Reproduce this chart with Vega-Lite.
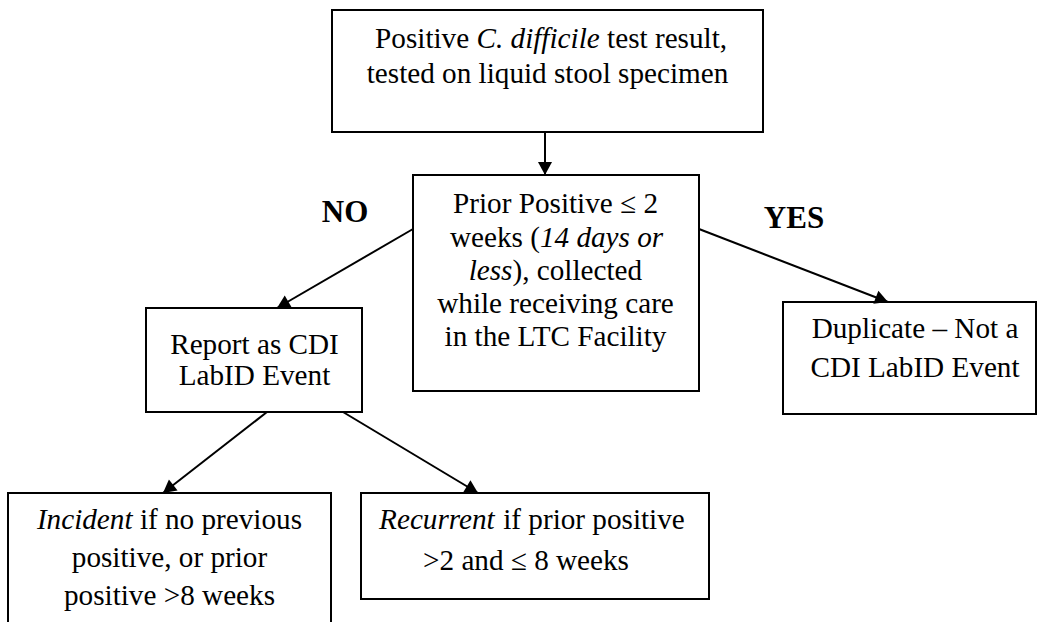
{
  "$schema": "https://vega.github.io/schema/vega-lite/v6.json",
  "width": 1037,
  "height": 622,
  "autosize": {"type": "fit", "contains": "padding"},
  "padding": 0,
  "background": "white",
  "config": {"view": {"stroke": null}},
  "datasets": {
    "boxes": [
      {"id": "start", "x": 332, "x2": 763, "y": 10, "y2": 132},
      {"id": "prior", "x": 413, "x2": 699, "y": 175, "y2": 391},
      {"id": "report", "x": 146, "x2": 362, "y": 308, "y2": 412},
      {"id": "duplicate", "x": 783, "x2": 1036, "y": 302, "y2": 414},
      {"id": "incident", "x": 8, "x2": 331, "y": 493, "y2": 660},
      {"id": "recurrent", "x": 361, "x2": 709, "y": 493, "y2": 599}
    ],
    "edges": [
      {"from": "start", "to": "prior", "x": 545, "y": 132, "x2": 545, "y2": 175},
      {"from": "prior", "to": "report", "x": 413, "y": 229, "x2": 277, "y2": 308},
      {"from": "prior", "to": "duplicate", "x": 699, "y": 229, "x2": 888, "y2": 302},
      {"from": "report", "to": "incident", "x": 267, "y": 412, "x2": 163, "y2": 493},
      {"from": "report", "to": "recurrent", "x": 343, "y": 412, "x2": 478, "y2": 493}
    ],
    "texts": [
      {"k": "seg", "x": 375.1, "y": 48, "t": "Positive"},
      {"k": "ital", "x": 476.5, "y": 48, "t": "C. difficile"},
      {"k": "seg", "x": 607.1, "y": 48, "t": "test result,"},
      {"k": "line", "x": 547.5, "y": 83, "t": "tested on liquid stool specimen"},
      {"k": "line", "x": 555.5, "y": 213, "t": "Prior Positive ≤ 2"},
      {"k": "seg", "x": 449.9, "y": 247, "t": "weeks ("},
      {"k": "ital", "x": 539.9, "y": 247, "t": "14 days or"},
      {"k": "ital", "x": 468.7, "y": 280, "t": "less"},
      {"k": "seg", "x": 512.5, "y": 280, "t": "), collected"},
      {"k": "line", "x": 555.5, "y": 313, "t": "while receiving care"},
      {"k": "line", "x": 555.5, "y": 346, "t": "in the LTC Facility"},
      {"k": "line", "x": 254.5, "y": 354, "t": "Report as CDI"},
      {"k": "line", "x": 254.5, "y": 385, "t": "LabID Event"},
      {"k": "line", "x": 915, "y": 338, "t": "Duplicate – Not a"},
      {"k": "line", "x": 915, "y": 377, "t": "CDI LabID Event"},
      {"k": "ital", "x": 36.9, "y": 529, "t": "Incident"},
      {"k": "seg", "x": 139.9, "y": 529, "t": "if no previous"},
      {"k": "line", "x": 169.5, "y": 567, "t": "positive, or prior"},
      {"k": "line", "x": 169.5, "y": 605, "t": "positive >8 weeks"},
      {"k": "ital", "x": 379.1, "y": 529, "t": "Recurrent"},
      {"k": "seg", "x": 503.2, "y": 529, "t": "if prior positive"},
      {"k": "line", "x": 526, "y": 570, "t": ">2 and ≤ 8 weeks"},
      {"k": "label", "x": 345, "y": 222, "t": "NO"},
      {"k": "label", "x": 794, "y": 228, "t": "YES"}
    ]
  },
  "encoding": {
    "x": {"field": "x", "type": "quantitative", "scale": {"domain": [0, 1037], "nice": false, "zero": false}, "axis": null},
    "y": {"field": "y", "type": "quantitative", "scale": {"domain": [0, 622], "nice": false, "zero": false, "reverse": true}, "axis": null}
  },
  "layer": [
    {
      "data": {"name": "boxes"},
      "mark": {"type": "rect", "fill": "white", "stroke": "black", "strokeWidth": 2, "clip": true},
      "encoding": {"x2": {"field": "x2"}, "y2": {"field": "y2"}}
    },
    {
      "data": {"name": "edges"},
      "mark": {"type": "rule", "color": "black", "strokeWidth": 2},
      "encoding": {"x2": {"field": "x2"}, "y2": {"field": "y2"}}
    },
    {
      "data": {"name": "edges"},
      "transform": [{"calculate": "atan2(datum.x2 - datum.x, datum.y - datum.y2) * 180 / PI", "as": "ang"}],
      "mark": {"type": "point", "shape": "M0,0L-0.54,1L0.54,1Z", "filled": true, "color": "black", "opacity": 1, "size": 676, "strokeWidth": 0},
      "encoding": {
        "x": {"field": "x2", "type": "quantitative"},
        "y": {"field": "y2", "type": "quantitative"},
        "angle": {"field": "ang", "type": "quantitative", "scale": null}
      }
    },
    {
      "data": {"name": "texts"},
      "transform": [{"filter": "datum.k === 'line'"}],
      "mark": {"type": "text", "font": "Liberation Serif", "fontSize": 29.2, "align": "center", "baseline": "alphabetic", "color": "black"},
      "encoding": {"text": {"field": "t"}}
    },
    {
      "data": {"name": "texts"},
      "transform": [{"filter": "datum.k === 'seg'"}],
      "mark": {"type": "text", "font": "Liberation Serif", "fontSize": 29.2, "align": "left", "baseline": "alphabetic", "color": "black"},
      "encoding": {"text": {"field": "t"}}
    },
    {
      "data": {"name": "texts"},
      "transform": [{"filter": "datum.k === 'ital'"}],
      "mark": {"type": "text", "font": "Liberation Serif", "fontSize": 29.2, "fontStyle": "italic", "align": "left", "baseline": "alphabetic", "color": "black"},
      "encoding": {"text": {"field": "t"}}
    },
    {
      "data": {"name": "texts"},
      "transform": [{"filter": "datum.k === 'label'"}],
      "mark": {"type": "text", "font": "Liberation Serif", "fontSize": 31, "fontWeight": "bold", "align": "center", "baseline": "alphabetic", "color": "black"},
      "encoding": {"text": {"field": "t"}}
    }
  ]
}
